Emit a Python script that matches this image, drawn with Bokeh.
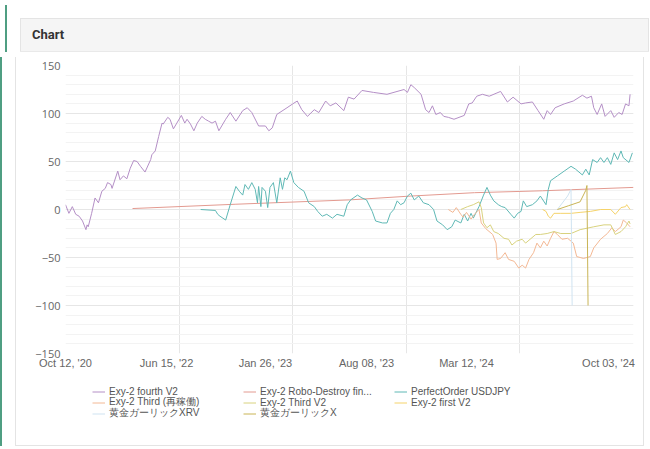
from bokeh.plotting import figure
from bokeh.models import Range1d, FixedTicker, Legend, LegendItem, Div
from bokeh.layouts import column
from bokeh.embed import file_html
from bokeh.resources import INLINE

# ---- axis categories (index positions) and labels ----
x_tick_pos = [0, 89, 176, 265, 353, 478]
x_tick_labels = ["Oct 12, '20", "Jun 15, '22", "Jan 26, '23", "Aug 08, '23", "Mar 12, '24", "Oct 03, '24"]
x_grid_pos = [0, 100, 200, 300, 400, 500]
y_ticks = [-150, -100, -50, 0, 50, 100, 150]

# ---- series ----
fourth_v2_x = [0, 3, 6, 9, 12, 15, 18, 19, 20, 23, 26, 29, 32, 35, 37, 40, 41, 46, 48, 51, 54, 57, 60, 63, 66, 70, 75, 76, 79, 82,
               85, 86, 90, 92, 95, 98, 102, 105, 107, 110, 113, 116, 120, 123, 126, 129, 132, 135, 141, 145, 150, 156, 160, 164, 170,
               176, 179, 182, 186, 195, 200, 204, 208, 213, 219, 223, 229, 233, 238, 245, 249, 254, 261, 271, 283, 298, 301, 304, 307,
               313, 317, 320, 323, 326, 330, 333, 337, 342, 351, 355, 358, 362, 367, 373, 379, 383, 389, 394, 401, 405, 411, 416, 421,
               424, 427, 431, 439, 447, 455, 459, 463, 465, 468, 472, 475, 480, 483, 487, 490, 493, 496, 497]
fourth_v2_y = [5, -4, 3, -5, -7, -12, -21, -16, -18, -4, 12, 7, 19, 22, 28, 26, 22, 40, 31, 35, 32, 43, 51, 50, 45, 39, 52, 57, 61, 76,
               90, 89, 96, 94, 84, 90, 98, 90, 94, 89, 82, 90, 97, 94, 92, 90, 92, 82, 94, 101, 92, 103, 106, 101, 87,
               87, 82, 85, 99, 106, 110, 113, 104, 97, 104, 101, 113, 108, 111, 103, 117, 115, 124, 122, 120, 125, 122, 130, 127,
               120, 104, 101, 108, 99, 101, 97, 96, 94, 98, 110, 111, 118, 120, 118, 121, 123, 112, 117, 110, 111, 112, 103, 94,
               103, 99, 106, 110, 113, 119, 116, 118, 106, 99, 110, 97, 103, 96, 101, 99, 110, 108, 120]

robo_x = [59, 150, 250, 304, 360, 420, 500]
robo_y = [1, 5.5, 10, 14, 17.5, 19.5, 23]

perfect_x = [119, 132, 134, 136, 141, 145, 150, 153, 156, 158, 161, 164, 167, 169, 170, 172, 173, 176, 178, 180, 183, 186, 189, 191,
             193, 195, 198, 201, 205, 210, 214, 219, 222, 226, 230, 235, 239, 245, 248, 251, 257, 261, 265, 270, 273, 279, 283, 286,
             289, 292, 295, 298, 301, 304, 307, 311, 315, 320, 324, 327, 332, 336, 340, 343, 348, 351, 354, 357, 359, 364, 368, 371,
             374, 377, 381, 384, 387, 392, 395, 398, 401, 403, 406, 411, 415, 418, 423, 425, 427, 433, 439, 445, 449, 455, 458, 461,
             464, 468, 471, 474, 477, 480, 483, 486, 489, 491, 496, 499]
perfect_y = [0, -1, -5, -7, -11, 5, 24, 19, 15, 26, 21, 28, 21, 7, 24, 3, 23, 19, 2, 23, 28, 7, 33, 21,
             33, 31, 40, 28, 23, 19, 7, 3, -2, -7, -5, -9, -5, -7, 5, 10, 15, 12, 10, -2, -12, -14, -14, -4,
             0, 9, 5, 7, 14, 17, 10, 14, 7, 5, 0, -12, -16, -21, -18, -11, -14, -5, -12, -4, -9, 3, 15, 23,
             15, 9, 5, 3, 2, -5, -9, -4, -2, 9, 3, 5, 9, 14, 5, 21, 30, 35, 40, 45, 42, 36, 42, 36,
             52, 49, 54, 49, 54, 47, 59, 52, 61, 54, 49, 59]

third_re_x = [337, 341, 344, 348, 350, 353, 357, 360, 364, 366, 370, 376, 379, 380, 383, 387, 390, 395, 399, 402, 405, 408, 412, 415,
              418, 421, 424, 427, 430, 433, 437, 442, 447, 450, 456, 462, 465, 471, 477, 481, 484, 489, 491, 494, 497]
third_re_y = [0, -3, 2, -5, -8, -3, -10, -5, 0, -14, -20, -26, -35, -52, -51, -45, -52, -54, -61, -58, -61, -52, -45, -35,
              -40, -33, -38, -30, -23, -26, -31, -30, -35, -49, -51, -49, -40, -31, -25, -19, -23, -18, -11, -14, -18]

third_v2_x = [348, 354, 359, 364, 366, 368, 371, 374, 377, 381, 386, 390, 393, 397, 402, 405, 409, 414, 418, 424, 430, 436, 445, 453,
              465, 474, 480, 484, 489, 493, 496, 497]
third_v2_y = [0, 3, 5, 8, 2, -14, -19, -16, -23, -25, -30, -31, -37, -33, -31, -35, -31, -26, -26, -25, -23, -25, -25, -21,
              -18, -16, -16, -26, -23, -18, -12, -15]

first_v2_x = [420, 423, 425, 427, 430, 436, 445, 453, 462, 471, 480, 484, 489, 493, 494, 497]
first_v2_y = [0, -2, -7, -9, -4, -4, -4, -3, -2, 0, 0, -5, 2, 3, 5, 0]

xrv_x = [433, 442, 445, 446]
xrv_y = [0, 14, 21, -100]

gx_x = [433, 443, 453, 458, 459, 460]
gx_y = [0, 4, 8, 20, 25, -100]

series = [
    ("Exy-2 fourth V2", fourth_v2_x, fourth_v2_y, "#b48fc6"),
    ("Exy-2 Robo-Destroy fin...", robo_x, robo_y, "#e39a90"),
    ("PerfectOrder USDJPY", perfect_x, perfect_y, "#5fb8b5"),
    ("Exy-2 Third (再稼働)", third_re_x, third_re_y, "#f3b894"),
    ("Exy-2 Third V2", third_v2_x, third_v2_y, "#d8d27e"),
    ("Exy-2 first V2", first_v2_x, first_v2_y, "#f5d36a"),
    ("黄金ガーリックXRV", xrv_x, xrv_y, "#cfe3f1"),
    ("黄金ガーリックX", gx_x, gx_y, "#c9b455"),
]

W = 644
LINE = "#e4e4e4"
GREEN = "#4f9e82"
HEAD = "#f5f5f5"


def band(color, x, y, w, h):
    return f"linear-gradient({color},{color}) {x} {y} / {w} {h} no-repeat"


side_lines = ", ".join([band(GREEN, "0", "0", "2px", "100%"),
                        band(LINE, "15px", "0", "1px", "100%"),
                        band(LINE, "643px", "0", "1px", "100%")])

header_bg = ", ".join([band(GREEN, "0", "0", "2px", "100%"),
                       band(LINE, "15px", "13px", "629px", "1px"),
                       band("#e9e9e9", "15px", "46px", "629px", "1px"),
                       band(LINE, "15px", "13px", "1px", "34px"),
                       band(LINE, "643px", "13px", "1px", "34px"),
                       band(HEAD, "15px", "13px", "629px", "34px")])

# ---- main chart ----
p = figure(width=W, height=320, output_backend="svg", toolbar_location=None,
           x_range=Range1d(0, 500), y_range=Range1d(-150, 150),
           min_border_left=65, min_border_right=11, min_border_top=8, min_border_bottom=24,
           styles={"background": side_lines})
p.title = None
p.background_fill_color = "white"
p.border_fill_alpha = 0
p.outline_line_color = None

p.xaxis.ticker = FixedTicker(ticks=x_tick_pos)
p.xaxis.major_label_overrides = {t: l for t, l in zip(x_tick_pos, x_tick_labels)}
p.xgrid.ticker = FixedTicker(ticks=x_grid_pos)
p.yaxis.ticker = FixedTicker(ticks=y_ticks, minor_ticks=list(range(-150, 151, 10)))
p.yaxis.major_label_overrides = {t: (str(t).replace("-", "\u2212")) for t in y_ticks}

for ax in (p.xaxis[0], p.yaxis[0]):
    ax.axis_line_color = None
    ax.major_tick_line_color = None
    ax.minor_tick_line_color = None
    ax.major_tick_out = 0
    ax.major_tick_in = 0
    ax.minor_tick_out = 0
    ax.minor_tick_in = 0
    ax.major_label_text_color = "#666666"
    ax.major_label_text_font_size = "11px"
p.xaxis.major_label_text_font = "Liberation Sans"
p.yaxis.major_label_text_font = "Open Sans"
p.xaxis.major_label_standoff = 3
p.yaxis.major_label_standoff = 5

p.xgrid.grid_line_color = "#e6e6e6"
p.ygrid.grid_line_color = "#e6e6e6"
p.ygrid.minor_grid_line_color = "#f3f3f3"

for name, xs, ys, col in series:
    p.line(xs, ys, line_color=col, line_width=1)

# ---- legend strip (same series styles) ----
pl = figure(width=W, height=69, output_backend="svg", toolbar_location=None,
            x_range=Range1d(0, 1), y_range=Range1d(0, 1),
            x_axis_location=None, y_axis_location=None,
            min_border_left=65, min_border_top=0, min_border_right=11, min_border_bottom=0,
            styles={"background": band(LINE, "15px", "100%", "629px", "1px") + ", " + side_lines})
pl.title = None
pl.grid.visible = False
pl.outline_line_color = None
pl.background_fill_alpha = 0
pl.border_fill_alpha = 0

items = []
for name, xs, ys, col in series:
    r = pl.line(xs[:1], ys[:1], line_color=col, line_width=1)
    items.append(LegendItem(label=name, renderers=[r]))

row_offsets = [49, 37, 26]
for i, vy in enumerate(row_offsets):
    lg = Legend(items=items[3 * i:3 * i + 3], ncols=3, orientation="horizontal", location=(27, vy),
                label_text_font="Liberation Sans", label_text_font_size="10px", label_text_color="#555555",
                glyph_width=13, glyph_height=11, label_height=11, label_standoff=4, label_width=134,
                spacing=0, padding=0, margin=0, border_line_color=None, background_fill_alpha=0)
    pl.add_layout(lg, "center")

header = Div(width=W, height=47,
             text=("<div style=\"padding:13px 0 0 27px; line-height:34px; font-family:Roboto; "
                   "font-weight:bold; font-size:13px; color:#333333;\">Chart</div>"),
             styles={"background": header_bg})

layout = column(header, p, pl, spacing=0)

open("out.html", "w").write(file_html(layout, INLINE))
